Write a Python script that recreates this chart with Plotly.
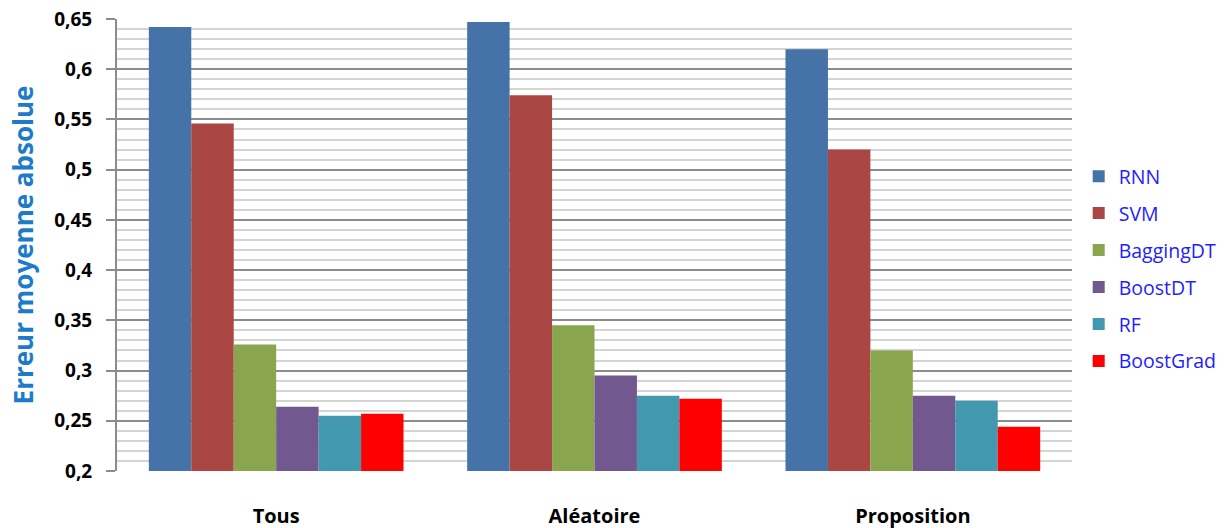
import plotly.graph_objects as go

categories = ["Tous", "Aléatoire", "Proposition"]
series_names = ["RNN", "SVM", "BaggingDT", "BoostDT", "RF", "BoostGrad"]
rnn = [0.642, 0.647, 0.620]
svm = [0.546, 0.574, 0.520]
bagging_dt = [0.326, 0.345, 0.320]
boost_dt = [0.264, 0.295, 0.275]
rf = [0.255, 0.275, 0.270]
boost_grad = [0.257, 0.272, 0.244]
series_values = [rnn, svm, bagging_dt, boost_dt, rf, boost_grad]
colors = ["#4572A7", "#AA4643", "#89A54E", "#71588F", "#4198AF", "#FF0000"]
y_tickvals = [0.2, 0.25, 0.3, 0.35, 0.4, 0.45, 0.5, 0.55, 0.6, 0.65]
y_ticktext = ["0,2", "0,25", "0,3", "0,35", "0,4", "0,45", "0,5", "0,55", "0,6", "0,65"]

FONT = "Open Sans, Lato, sans-serif"

fig = go.Figure()
for name, vals, col in zip(series_names, series_values, colors):
    fig.add_trace(go.Bar(
        x=categories, y=vals, name=name, legendgroup=name,
        marker=dict(color=col, line=dict(width=0)),
        base=0,
    ))

fig.update_layout(
    width=1230, height=528,
    margin=dict(l=117, r=158, t=19, b=57, autoexpand=False),
    paper_bgcolor="white", plot_bgcolor="white",
    barmode="group", bargap=0.2, bargroupgap=0,
    font=dict(family=FONT),
    showlegend=True,
    legend=dict(
        x=1.007, xanchor="left", y=0.447, yanchor="middle",
        font=dict(size=19.5, color="#1E1EFF", family=FONT),
        tracegroupgap=8.6, itemwidth=30,
        bgcolor="rgba(0,0,0,0)",
    ),
    xaxis=dict(
        automargin=False,
        showgrid=False, showline=False, zeroline=False,
        ticks="", ticklabelstandoff=31,
        tickfont=dict(size=20, color="black", family=FONT, weight="bold"),
    ),
    yaxis=dict(
        automargin=False,
        range=[0.2, 0.65],
        tickvals=y_tickvals, ticktext=y_ticktext,
        tickfont=dict(size=19, color="black", family=FONT, weight="bold"),
        ticks="outside", ticklen=9, tickcolor="#8C8C8C", tickwidth=2,
        ticklabelstandoff=10,
        showline=True, linecolor="#8C8C8C", linewidth=2,
        showgrid=True, gridcolor="#8C8C8C", gridwidth=2,
        zeroline=False,
        minor=dict(dtick=0.01, tick0=0.2, showgrid=True, gridcolor="#D4D4D4", gridwidth=2, ticks=""),
        title=dict(text="Erreur moyenne absolue",
                   font=dict(size=26, color="#1E7BC8", family=FONT, weight="bold"),
                   standoff=13),
    ),
)

fig.write_html(
    "out.html",
    config={"displayModeBar": False},
    post_script="document.body.style.margin='0';document.body.style.overflow='hidden';",
)
